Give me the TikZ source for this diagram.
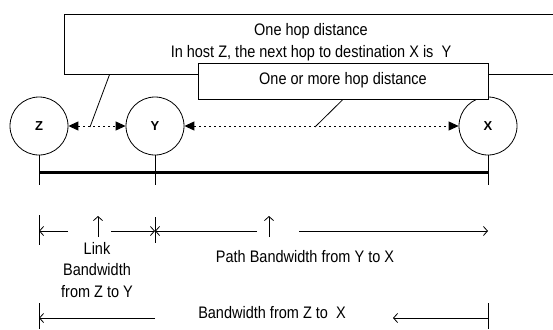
\documentclass[tikz,border=0pt]{standalone}
\usepackage{fontspec}
\setmainfont{Liberation Sans}
\usetikzlibrary{arrows.meta}
\begin{document}
\begin{tikzpicture}[x=1pt,y=-1pt,
  hostnode/.style={circle,draw,line width=0.8pt,minimum size=58pt,inner sep=0pt,
    font=\fontsize{13}{15}\selectfont\bfseries},
  callout/.style={draw,fill=white,line width=0.8pt,inner sep=0pt},
  hoplink/.style={line width=0.9pt,dash pattern=on 2pt off 3pt,
    {Triangle[length=10pt,width=9pt]}-{Triangle[length=10pt,width=9pt]}},
  leader/.style={line width=0.8pt},
  dimline/.style={line width=0.8pt,-{Straight Barb[length=4pt,width=9pt]}},
  tickline/.style={line width=0.8pt},
  bus/.style={line width=3pt},
  lbl/.style={font=\fontsize{14.5}{19}\selectfont,inner sep=0pt,align=center,
    yscale=1.15,transform shape},
]
\useasboundingbox (0,0) rectangle (553,329);
\fill[white] (0,0) rectangle (553,329);

% hosts
\node[hostnode] (Z) at (39,126) {Z};
\node[hostnode] (Y) at (155,126) {Y};
\node[hostnode] (X) at (488,126) {X};

% hop links between hosts
\draw[hoplink] (Z.east) -- (Y.west);
\draw[hoplink] (Y.east) -- (X.west);

% callout boxes
\node[callout,minimum width=496pt,minimum height=60pt] (onehop) at (312,44) {};
\node[lbl] (onehoptext) at (311,42)
  {One hop distance\\In host Z, the next hop to destination X is\ \ Y};
\node[callout,minimum width=290pt,minimum height=36pt] (morehop) at (343,81) {};
\node[lbl] (morehoptext) at (343,80) {One or more hop distance};

% callout leaders
\coordinate (zyhit) at (90,127);
\coordinate (yxhit) at (315,127);
\draw[leader] ([xshift=46pt]onehop.south west) -- (zyhit);
\draw[leader] (morehop.south) -- (yxhit);

% bus under the hosts
\coordinate (zb) at (39,185);
\coordinate (yb) at (155,185);
\coordinate (xb) at (488,185);
\draw[tickline] (Z.south) -- (zb);
\draw[tickline] (Y.south) -- (yb);
\draw[tickline] (X.south) -- (xb);
\draw[bus] (39,172) -- (488,172);

% link and path bandwidth dimension row
\draw[tickline] (39,215) -- (39,245);
\draw[tickline] (155,217) -- (155,243);
\draw[dimline] (68,231) -- (39,231);
\draw[dimline] (111,231) -- (155,231);
\draw[dimline] (257,231) -- (155,231);
\draw[dimline] (299,231) -- (488,231);
\draw[dimline] (98,237) -- (98,216);
\draw[dimline] (269,237) -- (269,216);
\node[lbl] (linkbw) at (97,270) {Link\\Bandwidth\\from Z to Y};
\node[lbl] (pathbw) at (305,257) {Path Bandwidth from Y to X};

% end-to-end bandwidth dimension row
\draw[tickline] (39,303) -- (39,329);
\draw[tickline] (488,303) -- (488,329);
\draw[dimline] (155,318) -- (39,318);
\draw[dimline] (488,318) -- (393,318);
\node[lbl] (totalbw) at (272,313) {Bandwidth from Z to\ \ X};
\end{tikzpicture}
\end{document}
